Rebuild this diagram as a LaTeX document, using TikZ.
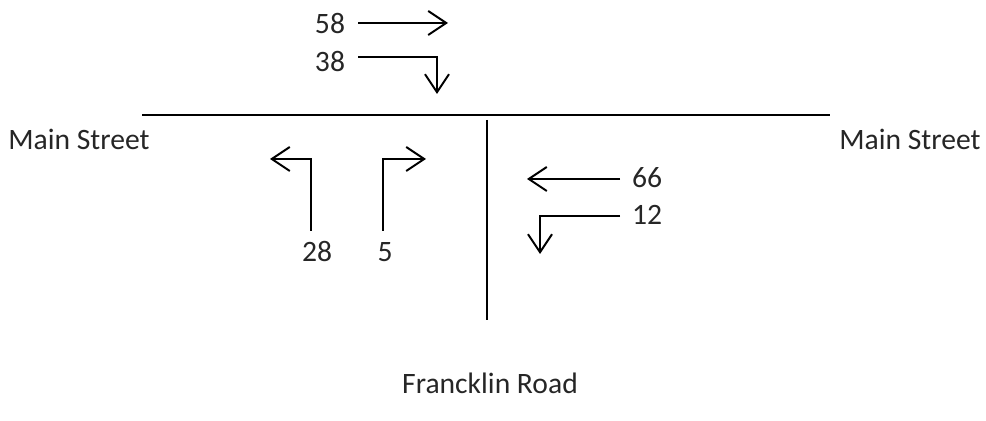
\documentclass[tikz,border=0pt]{standalone}
\usepackage{fontspec}
\setmainfont{Carlito}
\usetikzlibrary{arrows.meta}

\begin{document}
\begin{tikzpicture}[x=0.5pt,y=-0.5pt,
    every node/.style={text=black!85,font=\fontsize{14.8}{17}\selectfont},
    turn/.style={line width=1pt,-{Straight Barb[length=9pt,width=12pt,line width=1pt]}}]
                \useasboundingbox (0,0) rectangle (986,421);
                % streets
                \draw [line width=1pt] (142,115) -- (830,115);
                \draw [line width=1pt] (487,120) -- (487,320);
                \node (mainl) at (79,139) {Main Street};
                \node (mainr) at (910,139) {Main Street};
                \node (road) at (490,383) {Francklin Road};
                % from the north
                \node (n58) at (330,24) {58};
                \node (n38) at (330,62) {38};
                \draw [turn] (358,23) -- (448,23);
                \draw [turn] (358,57) -- (437,57) -- (437,94);
                % from the south
                \node (n28) at (317,252) {28};
                \node (n5) at (385,252) {5};
                \draw [turn] (311,231) -- (311,159) -- (270,159);
                \draw [turn] (383,231) -- (383,159) -- (426,159);
                % from the east
                \node (n66) at (647,178) {66};
                \node (n12) at (647,215) {12};
                \draw [turn] (620,179) -- (527,179);
                \draw [turn] (620,216) -- (540,216) -- (540,254);
            \end{tikzpicture}
\end{document}
